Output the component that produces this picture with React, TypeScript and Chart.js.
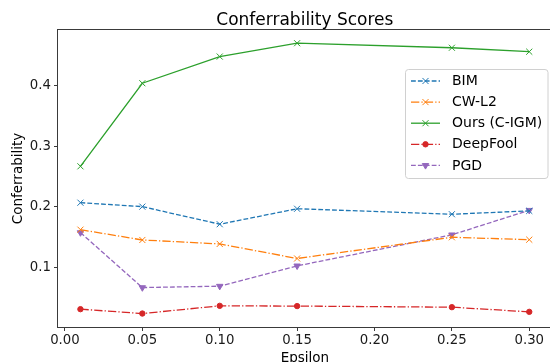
import React, { useEffect, useRef } from 'react';
import { Chart, registerables } from 'chart.js';
import { drawPoint } from 'chart.js/helpers';

Chart.register(...registerables);

const epsilons = [0.01, 0.05, 0.1, 0.15, 0.25, 0.3];
const bimScores = [0.207, 0.2005, 0.1715, 0.197, 0.188, 0.1935];
const cwl2Scores = [0.1625, 0.1455, 0.139, 0.115, 0.15, 0.146];
const oursScores = [0.267, 0.404, 0.448, 0.47, 0.4625, 0.456];
const deepFoolScores = [0.0314, 0.0242, 0.0369, 0.0365, 0.0347, 0.027];
const pgdScores = [0.1577, 0.067, 0.0693, 0.1028, 0.154, 0.1945];
const xTicks = [0, 0.05, 0.1, 0.15, 0.2, 0.25, 0.3];
const yTicks = [0.1, 0.2, 0.3, 0.4];
const seriesNames = ['BIM', 'CW-L2', 'Ours (C-IGM)', 'DeepFool', 'PGD'];
const titleText = 'Conferrability Scores';
const xLabel = 'Epsilon';
const yLabel = 'Conferrability';

const FONT = "'DejaVu Sans', sans-serif";
const LW = 1.3;
const DASHED = [4.8, 2.1];
const DASHDOT = [8.3, 2.1, 1.3, 2.1];

const styles = [
  { color: '#1f77b4', dash: DASHED, pointStyle: 'crossRot', radius: 4.3, rotation: 0 },
  { color: '#ff7f0e', dash: DASHDOT, pointStyle: 'crossRot', radius: 4.3, rotation: 0 },
  { color: '#2ca02c', dash: [] as number[], pointStyle: 'crossRot', radius: 4.3, rotation: 0 },
  { color: '#d62728', dash: DASHDOT, pointStyle: 'circle', radius: 2.7, rotation: 0 },
  { color: '#9467bd', dash: DASHED, pointStyle: 'triangle', radius: 3.7, rotation: 180 },
];

const seriesValues = [bimScores, cwl2Scores, oursScores, deepFoolScores, pgdScores];

const decorPlugin = {
  id: 'decor',
  afterDraw(chart: any) {
    const ctx = chart.ctx as CanvasRenderingContext2D;
    const a = chart.chartArea;
    ctx.save();
    // spines
    ctx.strokeStyle = '#3a3a3a';
    ctx.lineWidth = 1;
    ctx.setLineDash([]);
    ctx.strokeRect(Math.round(a.left) - 0.5, Math.round(a.top) - 0.5, Math.round(a.right - a.left) + 1, Math.round(a.bottom - a.top) + 1);
    // title
    ctx.fillStyle = '#000';
    ctx.font = `17px ${FONT}`;
    ctx.textAlign = 'center';
    ctx.textBaseline = 'alphabetic';
    const cx = (a.left + a.right) / 2;
    ctx.fillText(titleText, cx, 25);
    // x label
    ctx.font = `13.5px ${FONT}`;
    ctx.fillText(xLabel, cx, 361.5);
    // y label
    ctx.save();
    ctx.translate(22, (a.top + a.bottom) / 2);
    ctx.rotate(-Math.PI / 2);
    ctx.fillText(yLabel, 0, 0);
    ctx.restore();
    // legend
    const lx = 405.5, ly = 69.5, lw = 142.5, lh = 109, r = 3;
    ctx.beginPath();
    ctx.moveTo(lx + r, ly);
    ctx.lineTo(lx + lw - r, ly);
    ctx.quadraticCurveTo(lx + lw, ly, lx + lw, ly + r);
    ctx.lineTo(lx + lw, ly + lh - r);
    ctx.quadraticCurveTo(lx + lw, ly + lh, lx + lw - r, ly + lh);
    ctx.lineTo(lx + r, ly + lh);
    ctx.quadraticCurveTo(lx, ly + lh, lx, ly + lh - r);
    ctx.lineTo(lx, ly + r);
    ctx.quadraticCurveTo(lx, ly, lx + r, ly);
    ctx.closePath();
    ctx.fillStyle = 'rgba(255,255,255,0.8)';
    ctx.fill();
    ctx.strokeStyle = '#d0d0d0';
    ctx.lineWidth = 1;
    ctx.stroke();
    chart.data.datasets.forEach((ds: any, i: number) => {
      const st = styles[i];
      const y = 81 + i * 21.1;
      ctx.strokeStyle = st.color;
      ctx.fillStyle = st.color;
      ctx.lineWidth = LW;
      ctx.setLineDash(st.dash);
      ctx.beginPath();
      ctx.moveTo(411, y);
      ctx.lineTo(440, y);
      ctx.stroke();
      ctx.setLineDash([]);
      ctx.lineWidth = 1;
      drawPoint(ctx, { pointStyle: st.pointStyle, rotation: st.rotation, radius: st.radius, borderWidth: 1 } as any, 425.5, y);
      ctx.fillStyle = '#000';
      ctx.font = `14px ${FONT}`;
      ctx.textAlign = 'left';
      ctx.textBaseline = 'middle';
      ctx.fillText(ds.label, 452, y + 0.5);
    });
    ctx.restore();
  },
};

export default function App() {
  const ref = useRef<HTMLCanvasElement>(null);
  useEffect(() => {
    if (!ref.current) return;
    const datasets = seriesNames.map((name, i) => {
      const st = styles[i];
      return {
        label: name,
        data: epsilons.map((x, j) => ({ x, y: seriesValues[i][j] })),
        borderColor: st.color,
        backgroundColor: st.color,
        borderWidth: LW,
        borderDash: st.dash,
        pointStyle: st.pointStyle,
        pointRadius: st.radius,
        pointRotation: st.rotation,
        pointBorderWidth: 1,
        pointBorderColor: st.color,
        pointBackgroundColor: st.color,
        pointHoverRadius: st.radius,
        tension: 0,
        fill: false,
      };
    });
    const chart = new Chart(ref.current, {
      type: 'line',
      data: { datasets } as any,
      options: {
        animation: false,
        responsive: false,
        maintainAspectRatio: false,
        devicePixelRatio: 1,
        layout: { padding: { top: 30, right: 2, left: 0, bottom: 0 } },
        plugins: { legend: { display: false }, title: { display: false }, tooltip: { enabled: false } },
        scales: {
          x: {
            type: 'linear',
            min: -0.0045,
            max: 0.3145,
            afterBuildTicks: (scale: any) => {
              scale.ticks = xTicks.map((v) => ({ value: v }));
            },
            afterFit: (scale: any) => {
              scale.height = 35;
            },
            ticks: {
              callback: (v: any) => Number(v).toFixed(2),
              font: { family: FONT, size: 13.3 },
              color: '#1a1a1a',
              padding: 2,
              maxRotation: 0,
              autoSkip: false,
            },
            grid: { display: true, drawOnChartArea: false, drawTicks: true, tickLength: 4, tickColor: '#3a3a3a', color: '#3a3a3a' },
            border: { display: false },
          },
          y: {
            type: 'linear',
            min: 0.002,
            max: 0.4918,
            afterBuildTicks: (scale: any) => {
              scale.ticks = yTicks.map((v) => ({ value: v }));
            },
            afterFit: (scale: any) => {
              scale.width = 58;
            },
            ticks: {
              callback: (v: any) => Number(v).toFixed(1),
              font: { family: FONT, size: 13.3 },
              color: '#1a1a1a',
              padding: 3,
              autoSkip: false,
            },
            grid: { display: true, drawOnChartArea: false, drawTicks: true, tickLength: 4, tickColor: '#3a3a3a', color: '#3a3a3a' },
            border: { display: false },
          },
        },
      } as any,
      plugins: [decorPlugin],
    });
    return () => chart.destroy();
  }, []);
  return (
    <div style={{ position: 'fixed', left: 0, top: 0, width: 550, height: 362, overflow: 'hidden', background: '#fff' }}>
      <canvas ref={ref} width={557} height={362} style={{ width: 557, height: 362, display: 'block' }} />
    </div>
  );
}
